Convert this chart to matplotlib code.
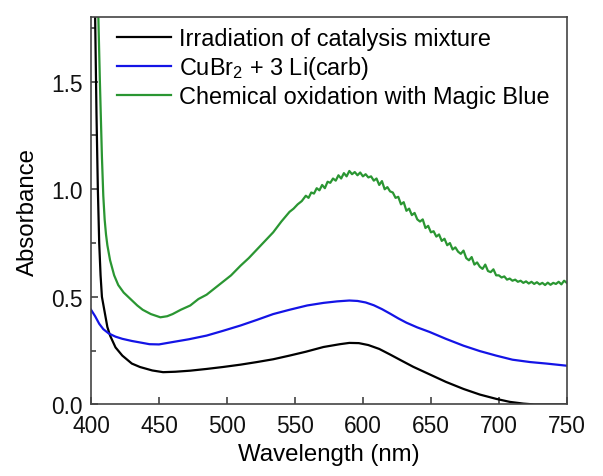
import matplotlib
matplotlib.use("Agg")
import matplotlib.pyplot as plt
from matplotlib.ticker import MultipleLocator, FormatStrFormatter

# Absorbance spectra
black_nm = [400, 401, 402, 403, 404, 405, 406, 407, 408, 410, 412, 414, 418, 423,
            430, 436, 445, 453, 462, 473, 485, 497, 510, 522, 534, 546, 558, 571,
            583, 590, 597, 604, 612, 620, 628, 637, 649, 661, 674, 686, 698, 708,
            718, 726, 730, 740, 750]
black_abs = [3.0, 2.6, 2.2, 1.8, 1.35, 1.0, 0.75, 0.6, 0.5, 0.43, 0.36, 0.32, 0.265,
             0.227, 0.19, 0.174, 0.158, 0.15, 0.152, 0.157, 0.165, 0.174, 0.185,
             0.197, 0.21, 0.227, 0.245, 0.267, 0.28, 0.286, 0.285, 0.276, 0.258,
             0.232, 0.205, 0.175, 0.14, 0.105, 0.072, 0.046, 0.026, 0.012, 0.004,
             0.0, 0.0, 0.0, 0.0]

blue_nm = [400, 403, 406, 409, 413, 418, 423, 430, 437, 443, 450, 460, 472, 485,
           497, 510, 522, 534, 546, 559, 571, 581, 590, 596, 602, 608, 614, 620,
           626, 632, 640, 649, 661, 674, 686, 698, 710, 723, 735, 750]
blue_abs = [0.44, 0.41, 0.375, 0.35, 0.33, 0.315, 0.305, 0.295, 0.287, 0.28, 0.279,
            0.29, 0.303, 0.32, 0.342, 0.367, 0.393, 0.42, 0.44, 0.46, 0.472, 0.479,
            0.483, 0.481, 0.474, 0.461, 0.443, 0.422, 0.4, 0.38, 0.358, 0.337,
            0.305, 0.273, 0.248, 0.227, 0.208, 0.197, 0.19, 0.18]

green_nm = [400, 403, 405, 406.5, 408, 409, 410, 411, 412, 414, 417, 420, 424, 429,
            434, 438, 444, 451, 456, 460, 466, 473, 479, 485, 491, 497, 503, 510,
            516, 522, 528, 534, 540, 546, 549, 552, 555, 558, 560, 562, 564, 566,
            568, 570, 572, 574, 576, 578, 580, 582, 584, 586, 588, 590, 592, 594,
            596, 598, 600, 602, 604, 606, 608, 610, 612, 614, 616, 618, 620, 622,
            624, 626, 628, 630, 632, 634, 636, 638, 640, 642, 644, 646, 648, 650,
            652, 654, 656, 658, 660, 662, 664, 666, 668, 670, 672, 674, 676, 678,
            680, 682, 684, 686, 688, 690, 692, 694, 696, 698, 700, 702, 704, 706,
            708, 710, 712, 714, 716, 718, 720, 722, 724, 726, 728, 730, 732, 734,
            736, 738, 740, 742, 744, 746, 748, 750]
green_abs = [3.0, 2.4, 1.9, 1.5, 1.15, 0.97, 0.86, 0.79, 0.74, 0.67, 0.6, 0.555,
             0.52, 0.49, 0.46, 0.44, 0.42, 0.405, 0.41, 0.42, 0.44, 0.46, 0.49, 0.51,
             0.54, 0.57, 0.6, 0.645, 0.68, 0.72, 0.76, 0.8, 0.85, 0.895, 0.91, 0.93,
             0.945, 0.97, 0.96, 0.985, 0.98, 1.005, 0.995, 1.02, 1.005, 1.035, 1.03,
             1.05, 1.04, 1.065, 1.05, 1.075, 1.06, 1.085, 1.07, 1.08, 1.065, 1.078,
             1.06, 1.07, 1.055, 1.06, 1.04, 1.05, 1.02, 1.038, 1.0, 1.01, 0.99,
             0.985, 0.96, 0.965, 0.93, 0.94, 0.9, 0.91, 0.88, 0.89, 0.86, 0.85, 0.86,
             0.82, 0.83, 0.8, 0.805, 0.78, 0.79, 0.76, 0.77, 0.74, 0.75, 0.72, 0.73,
             0.71, 0.7, 0.715, 0.68, 0.67, 0.685, 0.65, 0.66, 0.64, 0.63, 0.65, 0.62,
             0.615, 0.628, 0.6, 0.6, 0.59, 0.595, 0.58, 0.585, 0.575, 0.58, 0.57,
             0.575, 0.565, 0.572, 0.562, 0.57, 0.56, 0.568, 0.558, 0.565, 0.555,
             0.566, 0.556, 0.565, 0.56, 0.57, 0.558, 0.575, 0.565]

labels = ["Irradiation of catalysis mixture",
          "CuBr$_2$ + 3 Li(carb)",
          "Chemical oxidation with Magic Blue"]

plt.rcParams["font.family"] = ["Liberation Sans", "DejaVu Sans"]
plt.rcParams["mathtext.fontset"] = "custom"
plt.rcParams["mathtext.rm"] = "Liberation Sans"
plt.rcParams["mathtext.it"] = "Liberation Sans:italic"
plt.rcParams["mathtext.default"] = "regular"

fig = plt.figure(figsize=(6.03, 4.77), dpi=100)
ax = fig.add_axes([0.151, 0.150, 0.789, 0.812])

ax.plot(black_nm, black_abs, color="black", lw=1.6, label=labels[0])
ax.plot(blue_nm, blue_abs, color="#1414e6", lw=1.6, label=labels[1])
ax.plot(green_nm, green_abs, color="#2a9632", lw=1.6, label=labels[2])

ax.set_xlim(400, 750)
ax.set_ylim(0, 1.8)
ax.xaxis.set_major_locator(MultipleLocator(50))
ax.yaxis.set_major_locator(MultipleLocator(0.5))
ax.yaxis.set_minor_locator(MultipleLocator(0.25))
ax.yaxis.set_major_formatter(FormatStrFormatter("%.1f"))

ax.tick_params(which="both", direction="in", color="#333333", width=1.1,
               labelsize=16.4, labelcolor="#111111")
ax.tick_params(which="major", length=5)
ax.tick_params(which="minor", length=3.5)
ax.tick_params(axis="x", pad=7)
ax.tick_params(axis="y", pad=6)
for s in ax.spines.values():
    s.set_color("#444444")
    s.set_linewidth(1.2)

ax.set_xlabel("Wavelength (nm)", fontsize=17.3, labelpad=4)
ax.set_ylabel("Absorbance", fontsize=17.3, labelpad=9)

ax.legend(loc="upper left", bbox_to_anchor=(0.055, 0.975), frameon=False,
          fontsize=16.9, handlelength=2.3, handletextpad=0.33,
          labelspacing=0.18, borderpad=0, borderaxespad=0)

fig.savefig("out.png", dpi=100)
